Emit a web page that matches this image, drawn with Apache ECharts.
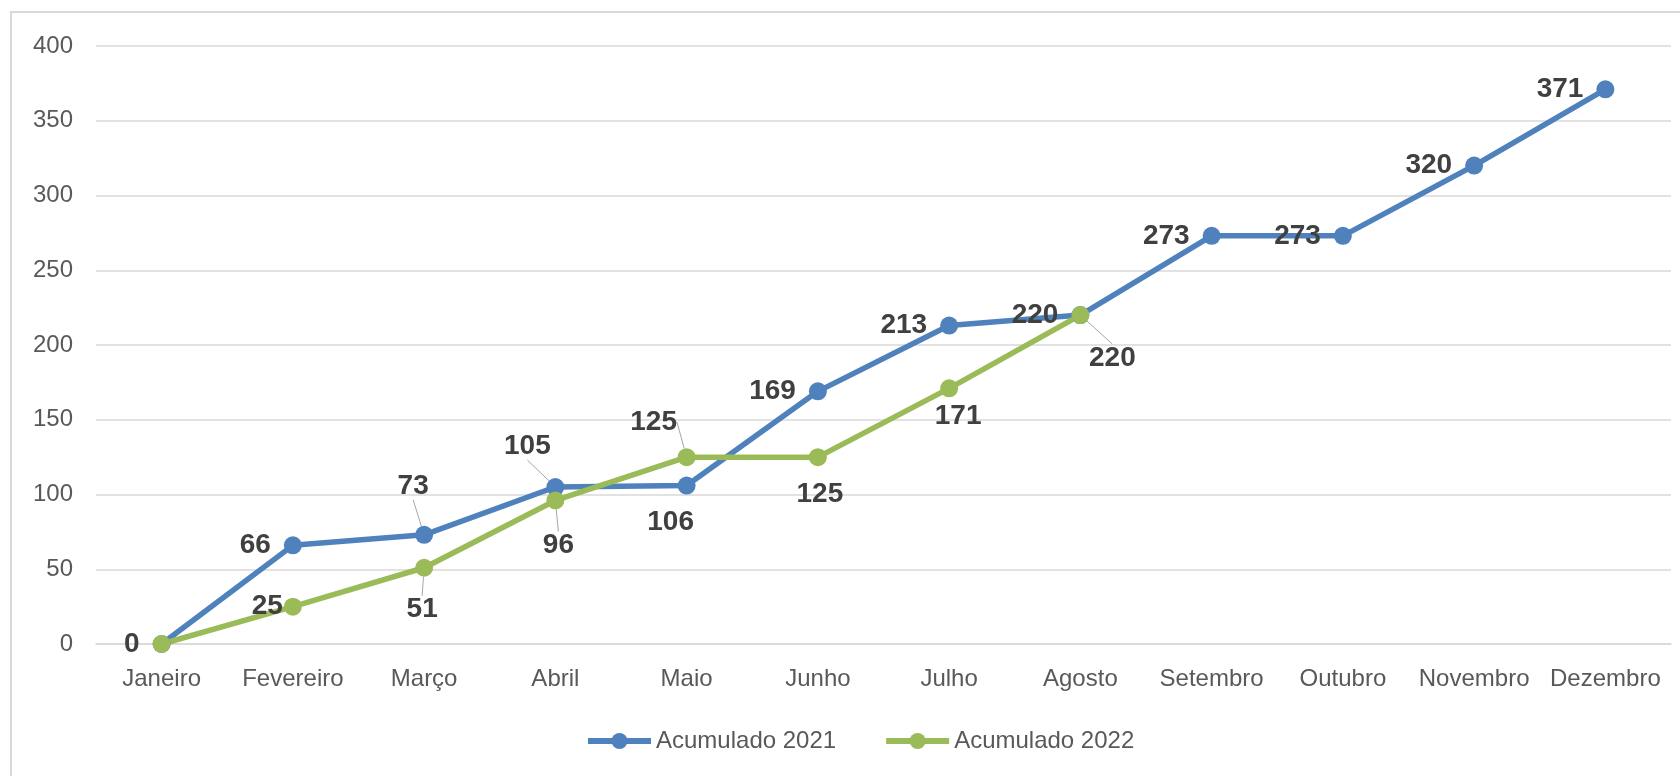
<!DOCTYPE html>
<html>
<head>
<meta charset="utf-8">
<script src="https://cdn.jsdelivr.net/npm/echarts@6/dist/echarts.min.js"></script>
<style>
	html, body { margin: 0; padding: 0; background: #fff; }
	#main { width: 1680px; height: 776px; }
</style>
</head>
<body>
<div id="main"></div>
<script>
var meses = ['Janeiro', 'Fevereiro', 'Março', 'Abril', 'Maio', 'Junho', 'Julho', 'Agosto', 'Setembro', 'Outubro', 'Novembro', 'Dezembro'];
var acum2021 = [0, 66, 73, 105, 106, 169, 213, 220, 273, 273, 320, 371];
var acum2022 = [0, 25, 51, 96, 125, 125, 171, 220];
var yTicks = [0, 50, 100, 150, 200, 250, 300, 350, 400];

//label placement: 'L' = left of the point, [dx, dy] = moved from the point, null = hidden
var lab2021 = ['L', 'L', [-11, -49], [-28, -41], [-16, 37], 'L', 'L', 'L', 'L', 'L', 'L', 'L'];
var lab2022 = [null, 'L3', [-2, 42], [3, 45], [-33, -35], [2, 37], [9, 28], [32, 43]];
var guia2021 = [2, 3];
var guia2022 = [2, 3, 4, 7];

var fonte = 'Liberation Sans';

function montaDados(vals, labs, guias) {
	var out = [];
	for(var i = 0; i < vals.length; i++) {
		var l = labs[i];
		var item = { value: vals[i] };
		if(l === null) {
			item.label = { show: false };
		} else if(l === 'L3') {
			item.label = { position: 'left', distance: 1 };
		} else if(l !== 'L') {
			item.label = { position: 'inside' };
		}
		if(guias.indexOf(i) >= 0) {
			item.labelLine = { show: true };
		}
		out.push(item);
	}
	return out;
}

function layoutDe(labs) {
	return function(p) {
		var l = labs[p.dataIndex];
		if(l && typeof l === 'object') {
			return { dx: l[0], dy: l[1] };
		}
		return {};
	};
}

function serie(nome, vals, labs, guias, cor) {
	return {
		name: nome,
		type: 'line',
		data: montaDados(vals, labs, guias),
		symbol: 'circle',
		symbolSize: 18,
		lineStyle: { color: cor, width: 5.5 },
		itemStyle: { color: cor },
		label: {
			show: true,
			position: 'left',
			distance: 13,
			fontFamily: fonte,
			fontSize: 28,
			fontWeight: 'bold',
			color: '#404040'
		},
		labelLine: {
			show: false,
			lineStyle: { color: '#a6a6a6', width: 1 }
		},
		labelLayout: layoutDe(labs),
		emphasis: { disabled: true },
		animation: false
	};
}

var myChart = echarts.init(document.getElementById('main'));
var option = {
	backgroundColor: '#fff',
	animation: false,
	graphic: [{
		type: 'rect',
		shape: { x: 11, y: 12, width: 1700, height: 800 },
		style: { fill: 'none', stroke: '#d9d9d9', lineWidth: 2 },
		silent: true
	}],
	grid: { left: 96, right: 9, top: 46, bottom: 132 },
	legend: {
		bottom: 18,
		left: 580,
		itemWidth: 63,
		itemHeight: 20,
		itemGap: 47,
		lineStyle: { width: 6 },
		textStyle: { fontFamily: fonte, fontSize: 24, color: '#595959' },
		data: ['Acumulado 2021', 'Acumulado 2022']
	},
	xAxis: {
		type: 'category',
		data: meses,
		boundaryGap: true,
		axisLine: { lineStyle: { color: '#d9d9d9', width: 1.5 } },
		axisTick: { show: false },
		axisLabel: { fontFamily: fonte, fontSize: 24, color: '#595959', margin: 23, interval: 0 }
	},
	yAxis: {
		type: 'value',
		min: yTicks[0],
		max: yTicks[yTicks.length - 1],
		interval: 50,
		axisLine: { show: false },
		axisTick: { show: false },
		splitLine: { lineStyle: { color: '#d9d9d9', width: 1.5 } },
		axisLabel: { fontFamily: fonte, fontSize: 24, color: '#595959', margin: 23 }
	},
	series: [
		serie('Acumulado 2021', acum2021, lab2021, guia2021, '#4f81bd'),
		serie('Acumulado 2022', acum2022, lab2022, guia2022, '#9bbb59')
	]
};
myChart.setOption(option);
</script>
</body>
</html>
